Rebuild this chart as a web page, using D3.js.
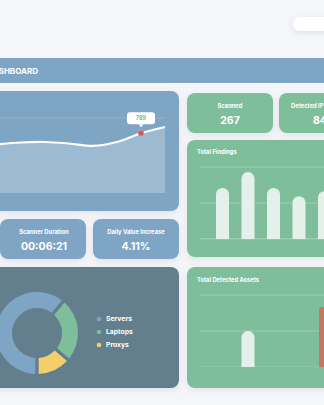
<!DOCTYPE html>
<html><head><meta charset="utf-8">
<script src="https://cdn.jsdelivr.net/npm/d3@7"></script>
<style>html,body{margin:0;padding:0;background:#f4f6f9;overflow:hidden}svg{display:block;font-family:Inter,"Open Sans",sans-serif}</style>
</head><body>
<script>
// ---- data ----
const lineIndex = [0,1,2,3,4,5,6,7];
const lineValues = [632, 660, 667, 646, 614, 667, 789, 875];
const lineTicks = [0, 500, 1000];
const highlightIndex = 6;
const findingsCats = ["A","B","C","D","E"];
const findingsValues = [14.2, 18.6, 14.2, 11.9, 13.3];
const findingsTicks = [0, 10, 20];
const assetCats = ["A","B","C","D","E"];
const assetValues = [0, 1, 0, 0, 1.67];
const assetTicks = [0, 1, 2];
const donutLabels = ["Servers","Laptops","Proxys"];
const donutValues = [62, 25, 13];
const kpiTitles = ["Scanned","Detected IP","Scanner Duration","Daily Value Increase"];
const kpiValues = ["267","84","00:06:21","4.11%"];

const W=324,H=405;
const svg=d3.select("body").append("svg").attr("width",W).attr("height",H);
const defs=svg.append("defs");
const f=defs.append("filter").attr("id","sh").attr("x","-20%").attr("y","-20%").attr("width","140%").attr("height","150%");
f.append("feDropShadow").attr("dx",0).attr("dy",2).attr("stdDeviation",3).attr("flood-color","#5a6a80").attr("flood-opacity",0.14);

const BLUE="#7fa5c4", GREEN="#7fbe9b", SLATE="#647f8e", YELLOW="#f2cf6a", BARW="#e4f0ea", RED="#c8765f";

function card(x,y,w,h,fill,r=8){
  return svg.append("rect").attr("x",x).attr("y",y).attr("width",w).attr("height",h).attr("rx",r).attr("fill",fill).attr("filter","url(#sh)");
}
// top pill
svg.append("rect").attr("x",293).attr("y",17).attr("width",50).attr("height",14).attr("rx",7).attr("fill","#fff").attr("filter","url(#sh)");
// header bar
svg.append("rect").attr("x",-10).attr("y",58).attr("width",W+20).attr("height",25).attr("fill",BLUE);
svg.append("text").attr("x",38).attr("y",73.5).attr("text-anchor","end").attr("fill","#fff").attr("font-size",8).attr("font-weight",700).text("DASHBOARD");

// ---- line chart card ----
card(-10,91,189,120,BLUE);
const lx=d3.scaleLinear().domain([0,7]).range([-3,165]);
const ly=d3.scaleLinear().domain([0,1000]).range([190,118]);
const plotBottom=193;
svg.append("g").selectAll("line").data(lineTicks.slice(1)).join("line")
  .attr("x1",-10).attr("x2",165).attr("y1",d=>ly(d)).attr("y2",d=>ly(d))
  .attr("stroke","#ffffff").attr("stroke-opacity",0.18).attr("stroke-width",0.8);
const curve=d3.curveCatmullRom.alpha(0.5);
svg.append("path").datum(lineIndex).attr("fill","#9dbad3")
  .attr("d",d3.area().x(i=>lx(i)).y0(plotBottom).y1(i=>ly(lineValues[i])).curve(curve));
svg.append("path").datum(lineIndex).attr("fill","none").attr("stroke","#fff").attr("stroke-width",2.2)
  .attr("d",d3.line().x(i=>lx(i)).y(i=>ly(lineValues[i])).curve(curve));
const hx=lx(highlightIndex), hy=ly(lineValues[highlightIndex]);
svg.append("circle").attr("cx",hx).attr("cy",hy).attr("r",2.8).attr("fill","#cf5a5c").attr("stroke","#e78a8a").attr("stroke-width",0.6);
const tip=svg.append("g").attr("transform",`translate(${hx},${hy-10})`);
tip.append("rect").attr("x",-14).attr("y",-11).attr("width",28).attr("height",12).attr("rx",3).attr("fill","#fff");
tip.append("path").attr("d","M-2.5,1L0,4L2.5,1Z").attr("fill","#fff");
tip.append("text").attr("x",0).attr("y",-3).attr("text-anchor","middle").attr("fill","#7cc56a").attr("font-size",5.6).attr("font-weight",700).text(lineValues[highlightIndex]);

// ---- KPI cards ----
const kpis=[
  {x:187,y:93,w:86,h:40,fill:GREEN,ty:108,vy:124,cx:230,anchor:"middle"},
  {x:279,y:93,w:86,h:40,fill:GREEN,ty:108,vy:124,cx:291,vcx:313,anchor:"start"},
  {x:0,y:219,w:86,h:40,fill:BLUE,ty:234,vy:250,cx:44,anchor:"middle"},
  {x:93,y:219,w:86,h:40,fill:BLUE,ty:234,vy:250,cx:136,anchor:"middle"}
];
kpis.forEach((k,i)=>{
  card(k.x,k.y,k.w,k.h,k.fill);
  svg.append("text").attr("x",k.cx).attr("y",k.ty).attr("text-anchor",k.anchor).attr("fill","#fff").attr("font-size",5.8).attr("font-weight",700).text(kpiTitles[i]);
  svg.append("text").attr("x",k.vcx||k.cx).attr("y",k.vy).attr("text-anchor",k.anchor).attr("fill","#fff").attr("font-size",10.5).attr("font-weight",700).text(kpiValues[i]);
});

// ---- Total Findings ----
card(187,140,150,117,GREEN);
svg.append("text").attr("x",197).attr("y",154).attr("fill","#fff").attr("font-size",5.8).attr("font-weight",700).text("Total Findings");
const fx=d3.scaleBand().domain(findingsCats).range([209.75,209.75+25.5*findingsCats.length]).paddingInner(0.49).paddingOuter(0.245);
const fy=d3.scaleLinear().domain([0,20]).range([239,167]);
svg.append("g").selectAll("line").data(findingsTicks).join("line")
  .attr("x1",200).attr("x2",W).attr("y1",d=>fy(d)).attr("y2",d=>fy(d))
  .attr("stroke","#fff").attr("stroke-opacity",0.3).attr("stroke-width",0.8);
svg.append("g").selectAll("rect").data(findingsCats).join("rect")
  .attr("x",d=>fx(d)).attr("width",fx.bandwidth())
  .attr("y",(d,i)=>fy(findingsValues[i])).attr("height",(d,i)=>fy(0)-fy(findingsValues[i])+6)
  .attr("rx",fx.bandwidth()/2).attr("fill",BARW);
// cover rounded bottoms
svg.append("rect").attr("x",200).attr("y",fy(0)).attr("width",130).attr("height",8).attr("fill",GREEN);
svg.append("line").attr("x1",200).attr("x2",W).attr("y1",fy(0)).attr("y2",fy(0)).attr("stroke","#fff").attr("stroke-opacity",0.3).attr("stroke-width",0.8);

// ---- Total Detected Assets ----
card(187,267,150,121,GREEN);
svg.append("text").attr("x",197).attr("y",282).attr("fill","#fff").attr("font-size",5.8).attr("font-weight",700).text("Total Detected Assets");
const ax=d3.scaleBand().domain(assetCats).range([209.75,209.75+25.5*assetCats.length]).paddingInner(0.49).paddingOuter(0.245);
const ay=d3.scaleLinear().domain([0,2]).range([367,295]);
svg.append("g").selectAll("line").data(assetTicks).join("line")
  .attr("x1",200).attr("x2",W).attr("y1",d=>ay(d)).attr("y2",d=>ay(d))
  .attr("stroke","#fff").attr("stroke-opacity",0.3).attr("stroke-width",0.8);
const maxA=d3.max(assetValues);
const ag=svg.append("g");
ag.selectAll("rect").data(assetCats.filter((d,i)=>assetValues[i]>0)).join("rect")
  .attr("x",d=>ax(d)+(assetValues[assetCats.indexOf(d)]===maxA?1:0)).attr("width",d=>assetValues[assetCats.indexOf(d)]===maxA?20:ax.bandwidth())
  .attr("y",d=>ay(assetValues[assetCats.indexOf(d)]))
  .attr("height",d=>ay(0)-ay(assetValues[assetCats.indexOf(d)])+6)
  .attr("rx",d=>assetValues[assetCats.indexOf(d)]===maxA?3:ax.bandwidth()/2)
  .attr("fill",d=>assetValues[assetCats.indexOf(d)]===maxA?RED:BARW);
svg.append("rect").attr("x",200).attr("y",ay(0)).attr("width",130).attr("height",8).attr("fill",GREEN);

// ---- Donut ----
card(-10,267,189,121,SLATE);
const pie=d3.pie().sort(null).value(d=>d).startAngle(Math.PI).endAngle(3*Math.PI).padAngle(0.07);
const arc=d3.arc().innerRadius(25).outerRadius(41);
const dColors=[BLUE,GREEN,YELLOW];
svg.append("g").attr("transform","translate(37,333)").selectAll("path").data(pie(donutValues)).join("path")
  .attr("d",arc).attr("fill",(d,i)=>dColors[i]);
const lg=svg.append("g").selectAll("g").data(donutLabels).join("g").attr("transform",(d,i)=>`translate(99,${319+i*13})`);
lg.append("circle").attr("r",2.3).attr("fill",(d,i)=>dColors[i]);
lg.append("text").attr("x",7).attr("y",2.4).attr("fill","#fff").attr("font-size",6.8).attr("font-weight",700).text(d=>d);
</script>
</body></html>
